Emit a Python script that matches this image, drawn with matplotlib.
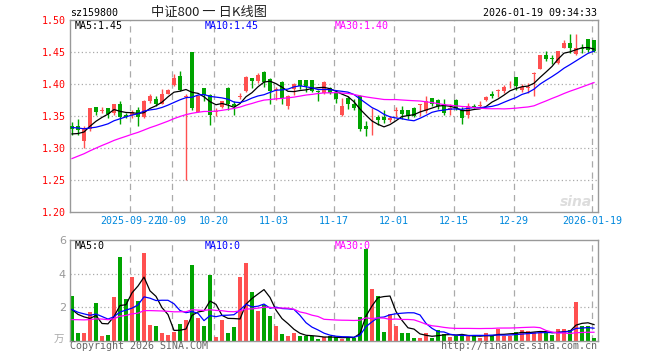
import numpy as np
import matplotlib.pyplot as plt

# 88 daily sessions, 2025-09-08 .. 2026-01-19
opens = [1.334, 1.335, 1.311, 1.329, 1.364, 1.358, 1.3625, 1.354, 1.368, 1.352,
         1.352, 1.360, 1.348, 1.374, 1.377, 1.369, 1.385, 1.399, 1.412, 1.379,
         1.4495, 1.357, 1.393, 1.383, 1.356, 1.364, 1.394, 1.369, 1.380, 1.389,
         1.410, 1.405, 1.419, 1.408, 1.390, 1.4036, 1.366, 1.392, 1.407, 1.407,
         1.407, 1.389, 1.386, 1.394, 1.386, 1.352, 1.378, 1.369, 1.381, 1.335,
         1.320, 1.348, 1.348, 1.3443, 1.358, 1.360, 1.360, 1.3625, 1.367, 1.358,
         1.378, 1.3755, 1.368, 1.360, 1.3755, 1.360, 1.351, 1.366, 1.366, 1.3755,
         1.385, 1.389, 1.3896, 1.3995, 1.411, 1.391, 1.394, 1.416, 1.424, 1.4458,
         1.4401, 1.4328, 1.457, 1.464, 1.447, 1.456, 1.4708, 1.469]
closes = [1.329, 1.328, 1.332, 1.363, 1.357, 1.359, 1.3536, 1.368, 1.349, 1.348,
          1.357, 1.348, 1.374, 1.382, 1.369, 1.385, 1.390, 1.410, 1.390, 1.382,
          1.363, 1.382, 1.383, 1.352, 1.358, 1.373, 1.369, 1.366, 1.381, 1.4115,
          1.405, 1.4146, 1.4026, 1.3885, 1.392, 1.3776, 1.382, 1.4005, 1.397, 1.397,
          1.3885, 1.388, 1.4036, 1.386, 1.377, 1.366, 1.369, 1.363, 1.329, 1.329,
          1.321, 1.343, 1.343, 1.347, 1.359, 1.3536, 1.3505, 1.3505, 1.368, 1.374,
          1.369, 1.366, 1.355, 1.362, 1.362, 1.347, 1.366, 1.364, 1.367, 1.3797,
          1.3818, 1.390, 1.3948, 1.4005, 1.3974, 1.396, 1.395, 1.417, 1.4458, 1.4396,
          1.4396, 1.452, 1.464, 1.456, 1.456, 1.455, 1.4536, 1.452]
highs = [1.340, 1.346, 1.334, 1.363, 1.364, 1.364, 1.3625, 1.368, 1.374, 1.355,
         1.360, 1.364, 1.375, 1.385, 1.381, 1.392, 1.392, 1.416, 1.420, 1.385,
         1.4495, 1.383, 1.393, 1.384, 1.362, 1.374, 1.395, 1.373, 1.386, 1.412,
         1.410, 1.417, 1.421, 1.409, 1.395, 1.405, 1.383, 1.402, 1.407, 1.407,
         1.407, 1.390, 1.404, 1.396, 1.387, 1.378, 1.381, 1.377, 1.383, 1.342,
         1.3625, 1.352, 1.360, 1.350, 1.364, 1.366, 1.360, 1.364, 1.369, 1.381,
         1.378, 1.376, 1.377, 1.368, 1.376, 1.3635, 1.370, 1.369, 1.373, 1.382,
         1.3885, 1.392, 1.399, 1.405, 1.411, 1.400, 1.4016, 1.418, 1.446, 1.452,
         1.4458, 1.452, 1.469, 1.478, 1.478, 1.4625, 1.471, 1.469]
lows = [1.321, 1.320, 1.300, 1.327, 1.352, 1.355, 1.347, 1.352, 1.338, 1.347,
        1.347, 1.335, 1.347, 1.371, 1.366, 1.368, 1.384, 1.397, 1.389, 1.250,
        1.360, 1.357, 1.374, 1.336, 1.350, 1.362, 1.360, 1.352, 1.376, 1.388,
        1.394, 1.402, 1.395, 1.369, 1.375, 1.369, 1.361, 1.383, 1.392, 1.388,
        1.387, 1.374, 1.385, 1.385, 1.371, 1.350, 1.361, 1.360, 1.326, 1.319,
        1.320, 1.336, 1.339, 1.340, 1.348, 1.345, 1.345, 1.348, 1.350, 1.355,
        1.365, 1.361, 1.352, 1.352, 1.360, 1.338, 1.347, 1.362, 1.364, 1.373,
        1.378, 1.379, 1.386, 1.394, 1.391, 1.388, 1.386, 1.382, 1.423, 1.4354,
        1.431, 1.431, 1.456, 1.448, 1.446, 1.4484, 1.450, 1.450]
volumes = [2.66, 0.46, 0.46, 1.73, 2.27, 0.28, 0.36, 2.62, 5.01, 2.50,
           3.82, 2.39, 5.25, 0.93, 0.87, 0.46, 0.34, 0.54, 0.99, 1.23,
           4.51, 1.35, 0.87, 3.92, 0.24, 1.23, 0.46, 0.82, 3.80, 4.63,
           2.92, 1.79, 2.13, 1.47, 0.87, 0.40, 0.28, 0.46, 0.28, 0.28,
           0.28, 0.12, 0.22, 0.28, 0.24, 0.12, 0.20, 0.20, 1.43, 5.47,
           3.10, 2.66, 0.54, 1.59, 0.87, 0.46, 0.46, 0.16, 0.16, 0.46,
           0.16, 0.64, 0.40, 0.24, 0.32, 0.36, 0.32, 0.28, 0.16, 0.46,
           0.32, 0.72, 0.32, 0.32, 0.56, 0.66, 0.60, 0.52, 0.48, 0.52,
           0.34, 0.70, 0.70, 0.66, 2.31, 0.87, 0.87, 0.16]

# 29 sessions before the window, only there to seed the moving averages
prior_closes = [1.215, 1.22, 1.225, 1.23, 1.235, 1.24, 1.245, 1.25, 1.255, 1.26,
                1.26, 1.265, 1.27, 1.275, 1.28, 1.285, 1.29, 1.29, 1.295, 1.30,
                1.335, 1.345, 1.35, 1.345, 1.335, 1.325, 1.32, 1.318, 1.318]
prior_volumes = [0.6, 0.8, 1.2, 0.9, 0.7, 1.5, 0.8, 0.6, 1.1, 0.9,
                 1.3, 0.7, 0.9, 1.2, 0.8, 1.0, 1.4, 0.9, 1.1, 1.0,
                 2.1, 1.4, 2.6, 1.5, 1.75, 1.9, 1.2, 2.2, 1.39]

tick_idx = [10, 17, 24, 34, 44, 54, 64, 74, 87]
tick_labels = ['2025-09-22', '10-09', '10-20', '11-03', '11-17',
               '12-01', '12-15', '12-29', '2026-01-19']

RED = '#ff5050'
GREEN = '#00a400'
GRID = '#aaaaaa'
MONO = 'DejaVu Sans Mono'


def ma(values, n):
    a = np.convolve(values, np.ones(n) / n, mode='valid')
    return a[30 - n:]


o = np.array(opens)
c = np.array(closes)
h = np.array(highs)
l = np.array(lows)
v = np.array(volumes)
x = np.arange(len(c))
up = c >= o
colors = np.where(up, RED, GREEN)

all_c = np.array(prior_closes + closes)
all_v = np.array(prior_volumes + volumes)

W, H = 660, 360
fig = plt.figure(figsize=(W / 100, H / 100), dpi=100)
ax1 = fig.add_axes([70 / W, 148 / H, 528 / W, 192 / H])
ax2 = fig.add_axes([70 / W, 19 / H, 528 / W, 101 / H])

xlim = (-1 / 3, len(c) - 1 / 3)
gx = [t - 1 / 3 for t in tick_idx]

for ax in (ax1, ax2):
    ax.set_xlim(*xlim)
    for s in ax.spines.values():
        s.set_color('#999999')
        s.set_linewidth(1)
    ax.tick_params(length=0)
    for g in gx:
        ax.axvline(g, color=GRID, lw=0.9, ls=(0, (5, 4)), zorder=0)

# price panel
ax1.set_ylim(1.20, 1.50)
pticks = [1.20, 1.25, 1.30, 1.35, 1.40, 1.45, 1.50]
ax1.set_yticks(pticks)
ax1.set_yticklabels(['%.2f' % p for p in pticks], color='#ff0000',
                    fontsize=7.2, family=MONO)
ax1.tick_params(axis='y', pad=3)
for p in pticks[1:-1]:
    ax1.axhline(p, color=GRID, lw=0.9, ls=(0, (1, 2)), zorder=0)

ax1.vlines(x, l, h, colors=colors, lw=1, zorder=2)
body = np.maximum(np.abs(c - o), 0.0008)
ax1.bar(x, body, bottom=np.minimum(o, c), width=0.72, color=colors,
        lw=0, zorder=3)

ax1.plot(x, ma(all_c, 5), color='black', lw=0.9, zorder=4)
ax1.plot(x, ma(all_c, 10), color='#0000ff', lw=0.9, zorder=4)
ax1.plot(x, ma(all_c, 30), color='#ff00ff', lw=0.9, zorder=4)

ax1.set_xticks(gx)
ax1.set_xticklabels(tick_labels, color='#0088dd', fontsize=7.2, family=MONO)
ax1.tick_params(axis='x', pad=3)

# volume panel
ax2.set_ylim(0, 6)
ax2.set_yticks([2, 4, 6])
ax2.set_yticklabels(['2', '4', '6'], color='#999999', fontsize=8)
ax2.tick_params(axis='y', pad=3)
ax2.set_xticks([])
for p in (2, 4):
    ax2.axhline(p, color=GRID, lw=0.9, ls=(0, (1, 2)), zorder=0)
ax2.bar(x, v, width=0.8, color=colors, lw=0, zorder=2)
ax2.plot(x, ma(all_v, 5), color='black', lw=0.9, zorder=4)
ax2.plot(x, ma(all_v, 10), color='#0000ff', lw=0.9, zorder=4)
ax2.plot(x, ma(all_v, 30), color='#ff00ff', lw=0.9, zorder=4)


def px(xp, yp, s, **kw):
    fig.text(xp / W, 1 - yp / H, s, **kw)


px(70, 13, 'sz159800', fontsize=7.2, family=MONO, va='center')
px(209, 12, '中证800 一 日K线图', fontsize=9.5, ha='center', va='center',
   family=['Noto Sans CJK SC', 'DejaVu Sans'], color='#222222')
px(597, 13, '2026-01-19 09:34:33', fontsize=7.2, family=MONO, ha='right',
   va='center')
px(75, 26, 'MA5:1.45', fontsize=7.2, family=MONO, va='center', color='black')
px(205, 26, 'MA10:1.45', fontsize=7.2, family=MONO, va='center', color='#0000ff')
px(335, 26, 'MA30:1.40', fontsize=7.2, family=MONO, va='center', color='#ff00ff')
px(75, 246, 'MA5:0', fontsize=7.2, family=MONO, va='center', color='black')
px(205, 246, 'MA10:0', fontsize=7.2, family=MONO, va='center', color='#0000ff')
px(335, 246, 'MA30:0', fontsize=7.2, family=MONO, va='center', color='#ff00ff')
px(70, 346, 'Copyright 2026 SINA.COM', fontsize=7.2, family=MONO,
   va='center', color='#666666')
px(597, 346, 'http://finance.sina.com.cn', fontsize=7.2, family=MONO,
   ha='right', va='center', color='#666666')
px(64, 340, '万', fontsize=7.5, ha='right', va='center', color='#aaaaaa',
   family=['Noto Sans CJK SC', 'DejaVu Sans'])
px(576, 202, 'sina', fontsize=10, style='italic', weight='bold', ha='center',
   va='center', color='#dddddd')

fig.savefig('out.png', dpi=100)
